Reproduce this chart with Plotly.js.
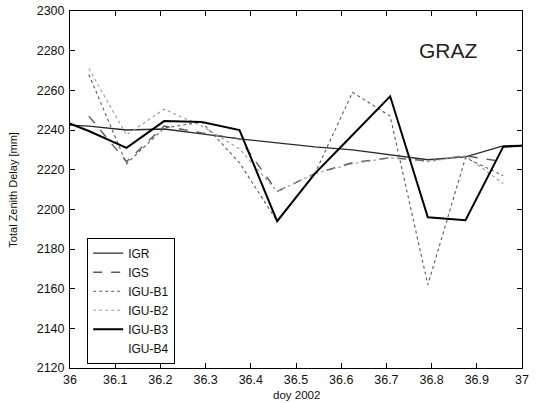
<!DOCTYPE html>
<html>
<head>
<meta charset="utf-8">
<script src="https://cdn.plot.ly/plotly-3.0.1.min.js"></script>
<style>html,body{margin:0;padding:0;background:#fff;}#chart{width:541px;height:403px;}</style>
</head>
<body>
<div id="chart"></div>
<script>
// Epochs (day of year 2002), every 2 hours at odd hours
const tEdge = [35.9583, 36.0417, 36.125, 36.2083, 36.2917, 36.375, 36.4583, 36.5417, 36.625, 36.7083, 36.7917, 36.875, 36.9583, 37.0417];
const tOdd  = [36.0417, 36.125, 36.2083, 36.2917, 36.375, 36.4583, 36.5417, 36.625, 36.7083, 36.7917, 36.875, 36.9583];

// Total zenith delay [mm]
const igr   = [2243, 2242, 2240, 2240.5, 2238, 2235.5, 2233.5, 2231.5, 2230, 2227.5, 2225, 2226.5, 2232, 2232.5];
const igs   = [2247, 2224, 2242, 2238.5, 2235.5, 2209, 2218, 2223.5, 2226, 2224.5, 2227, 2224];
const igub1 = [2268, 2223, 2241, 2244, 2223.5, 2194, 2218, 2259, 2247, 2162, 2226, 2217];
const igub2 = [2271, 2237.5, 2250.5, 2242, 2230.5, 2209, 2218, 2223, 2226, 2224, 2227, 2213];
const igub3 = [2247, 2239.5, 2231, 2244.5, 2244, 2240, 2194, 2218, 2237.5, 2257, 2196, 2194.5, 2231.5, 2232.5];
const igub4 = [null]; // not visible in the figure

const xTickVals = [36, 36.1, 36.2, 36.3, 36.4, 36.5, 36.6, 36.7, 36.8, 36.9, 37];
const xTickText = ['36', '36.1', '36.2', '36.3', '36.4', '36.5', '36.6', '36.7', '36.8', '36.9', '37'];
const yTickVals = [2120, 2140, 2160, 2180, 2200, 2220, 2240, 2260, 2280, 2300];

const font = 'Liberation Sans, Arial, sans-serif';

const traces = [
  {x: tEdge, y: igr,   name: 'IGR',    mode: 'lines', line: {color: '#2a2a2a', width: 1.3}},
  {x: tOdd,  y: igs,   name: 'IGS',    mode: 'lines', line: {color: '#5a5a5a', width: 1.4, dash: 'dash'}},
  {x: tOdd,  y: igub1, name: 'IGU-B1', mode: 'lines', line: {color: '#5a5a5a', width: 1.1, dash: 'dot'}},
  {x: tOdd,  y: igub2, name: 'IGU-B2', mode: 'lines', line: {color: '#9a9a9a', width: 1.1, dash: 'dot'}},
  {x: tEdge, y: igub3, name: 'IGU-B3', mode: 'lines', line: {color: '#000000', width: 2}},
  {x: [null], y: igub4, name: 'IGU-B4', mode: 'lines', line: {color: 'rgba(255,255,255,0)', width: 1}}
];

const layout = {
  width: 541, height: 403,
  margin: {l: 70, r: 19, t: 11, b: 35},
  paper_bgcolor: '#ffffff', plot_bgcolor: '#ffffff',
  font: {family: font, size: 12, color: '#111'},
  showlegend: true,
  legend: {
    x: 0.038, y: 0.365, xanchor: 'left', yanchor: 'top',
    bgcolor: '#ffffff', bordercolor: '#000000', borderwidth: 1,
    font: {family: font, size: 12, color: '#111'},
    tracegroupgap: 0
  },
  xaxis: {
    range: [36, 37], tickvals: xTickVals, ticktext: xTickText,
    ticks: 'inside', ticklen: 5, tickcolor: '#000', mirror: 'ticks',
    showline: true, linecolor: '#000', linewidth: 1, showgrid: false, zeroline: false,
    tickfont: {family: font, size: 12.5, color: '#111'}, fixedrange: true
  },
  yaxis: {
    range: [2120, 2300], tickvals: yTickVals,
    ticks: 'inside', ticklen: 5, tickcolor: '#000', mirror: 'ticks',
    showline: true, linecolor: '#000', linewidth: 1, showgrid: false, zeroline: false,
    tickfont: {family: font, size: 12.5, color: '#111'},
    ticklabelstandoff: 2,
    fixedrange: true
  },
  annotations: [
    {text: 'GRAZ', xref: 'paper', yref: 'paper', x: 0.838, y: 0.89, xanchor: 'center', yanchor: 'middle',
     showarrow: false, font: {family: font, size: 21, color: '#222'}},
    {text: 'Total Zenith Delay [mm]', xref: 'paper', yref: 'paper', x: -0.128, y: 0.5, xanchor: 'center', yanchor: 'middle',
     textangle: -90, showarrow: false, font: {family: font, size: 11, color: '#111'}},
    {text: 'doy 2002', xref: 'paper', yref: 'paper', x: 0.5, y: -0.077, xanchor: 'center', yanchor: 'middle',
     showarrow: false, font: {family: font, size: 11.5, color: '#111'}}
  ]
};

Plotly.newPlot('chart', traces, layout, {displayModeBar: false, staticPlot: true});
</script>
</body>
</html>
